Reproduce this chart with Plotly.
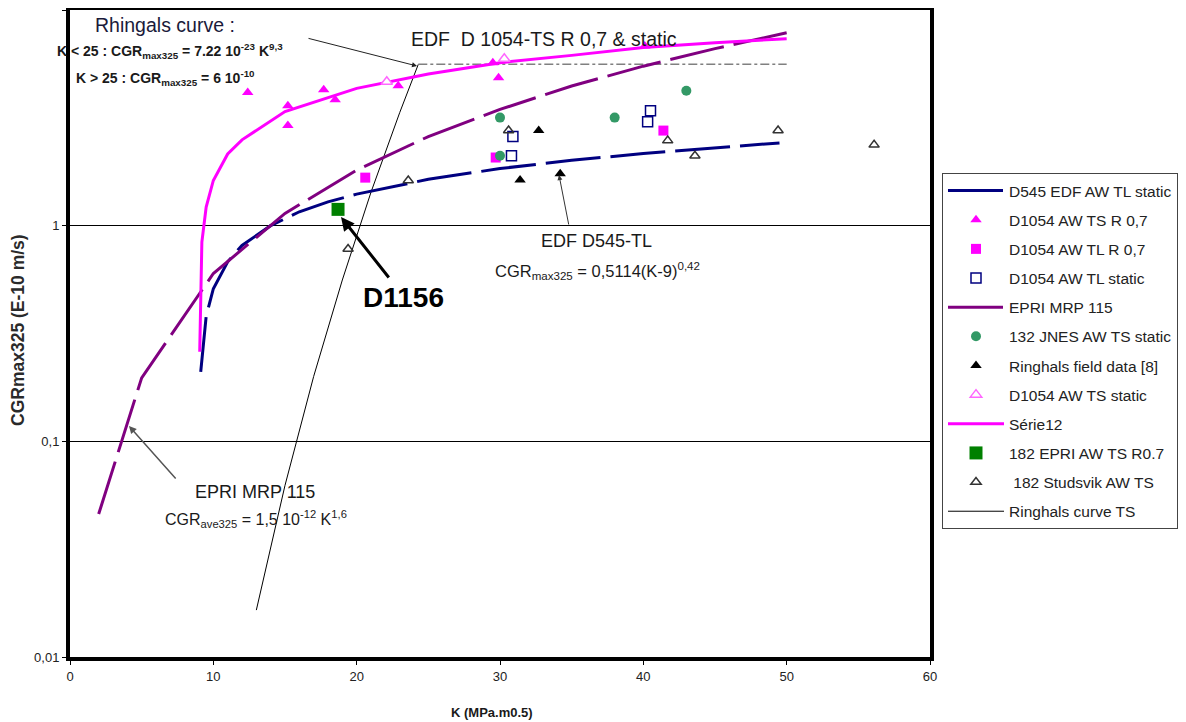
import plotly.graph_objects as go

# ---------------- data ----------------
k_d545 = [9.12, 9.5, 10, 11, 12, 14, 16, 18, 20, 25, 30, 35, 40, 45, 49.5]
cgr_d545 = [0.21, 0.38, 0.51, 0.68, 0.81, 1.0, 1.16, 1.29, 1.40, 1.64, 1.84, 2.01, 2.16, 2.30, 2.42]

k_ts_r07 = [12.4, 15.2, 15.2, 17.7, 18.5, 22.9, 29.5, 29.9, 40.1]
cgr_ts_r07 = [4.14, 3.6, 2.91, 4.27, 3.84, 4.46, 5.7, 4.85, 6.8]

k_tl_r07 = [20.6, 29.7, 41.4]
cgr_tl_r07 = [1.67, 2.07, 2.76]

k_tl_static = [30.9, 30.8, 40.5, 40.3]
cgr_tl_static = [2.59, 2.11, 3.41, 3.03]

k_epri = [2, 5, 10, 15, 20, 25, 30, 35, 40, 45, 50]
cgr_epri = [0.046, 0.197, 0.60, 1.14, 1.81, 2.59, 3.46, 4.44, 5.49, 6.62, 7.84]

k_jnes = [30.0, 30.0, 38.0, 43.0]
cgr_jnes = [3.17, 2.11, 3.17, 4.22]

k_field = [32.7, 31.4, 34.2]
cgr_field = [2.76, 1.63, 1.74]

k_ts_static = [22.1, 30.3]
cgr_ts_static = [4.65, 5.94]

k_serie12 = [9.05, 9.2, 9.5, 10, 11, 12, 15, 20, 25, 30, 35, 40, 45, 50]
cgr_serie12 = [0.26, 0.84, 1.22, 1.62, 2.15, 2.5, 3.38, 4.33, 5.05, 5.7, 6.16, 6.7, 7.05, 7.36]

k_epri182 = [18.7]
cgr_epri182 = [1.19]

k_studsvik = [19.4, 23.6, 30.6, 41.7, 43.6, 49.4, 56.1]
cgr_studsvik = [0.78, 1.62, 2.76, 2.48, 2.11, 2.76, 2.37]

k_ringhals = [13, 15, 17, 19, 21, 23, 24.3]
cgr_ringhals = [0.0165, 0.0625, 0.20, 0.56, 1.43, 3.34, 5.6]

k_ringhals_cap = [24.3, 50]
cgr_ringhals_cap = [5.6, 5.6]

y_tickvals = [0.01, 0.1, 1, 10]
y_ticktext = ["0,01", "0,1", "1", "10"]
x_tickvals = [0, 10, 20, 30, 40, 50, 60]

FONT = "Liberation Sans"

# ---------------- figure ----------------
fig = go.Figure()


def add(name, x, y, rank, **kw):
    fig.add_trace(go.Scatter(x=x, y=y, name=name, legendgroup=name,
                             legendrank=rank, **kw))


# lines first (drawn underneath)
add("Ringhals curve TS", k_ringhals, cgr_ringhals, 12, mode="lines",
    line=dict(color="black", width=1))
fig.add_trace(go.Scatter(x=k_ringhals_cap, y=cgr_ringhals_cap, mode="lines",
                         showlegend=False, hoverinfo="skip",
                         line=dict(color="#808080", width=1.5, dash="dashdot")))
add("D545 EDF AW TL static", k_d545, cgr_d545, 1, mode="lines",
    line=dict(color="#000080", width=3, dash="55px,10px"))
add("EPRI MRP 115", k_epri, cgr_epri, 5, mode="lines",
    line=dict(color="#800080", width=3, dash="55px,10px"))
add("Série12", k_serie12, cgr_serie12, 9, mode="lines",
    line=dict(color="#FF00FF", width=3))

# markers
add("D1054 AW TS R 0,7", k_ts_r07, cgr_ts_r07, 2, mode="markers",
    marker=dict(symbol="triangle-up", color="#FF00FF", size=10))
add("D1054 AW TL R 0,7", k_tl_r07, cgr_tl_r07, 3, mode="markers",
    marker=dict(symbol="square", color="#FF00FF", size=10))
add("D1054 AW TL static", k_tl_static, cgr_tl_static, 4, mode="markers",
    marker=dict(symbol="square-open", color="#000080", size=10,
                line=dict(width=1.5)))
add("132 JNES AW TS static", k_jnes, cgr_jnes, 6, mode="markers",
    marker=dict(symbol="circle", color="#339966", size=10))
add("Ringhals field data [8]", k_field, cgr_field, 7, mode="markers",
    marker=dict(symbol="triangle-up", color="black", size=10))
add("D1054 AW TS static", k_ts_static, cgr_ts_static, 8, mode="markers",
    marker=dict(symbol="triangle-up", color="white", size=10,
                line=dict(color="#FF66FF", width=1.5)))
add("182 EPRI AW TS R0.7", k_epri182, cgr_epri182, 10, mode="markers",
    marker=dict(symbol="square", color="#008000", size=13))
add(" 182 Studsvik AW TS", k_studsvik, cgr_studsvik, 11, mode="markers",
    marker=dict(symbol="triangle-up-open", color="#333333", size=9,
                line=dict(width=1.5)))

# ---------------- layout ----------------
# the page body has an 8px margin, so the figure is placed 8px in from the window corner
OFF = 8
FIG_W, FIG_H = 1186 - OFF, 722 - OFF
# plot-area edges in window pixels
SL, SR, ST, SB = 70, 930, 10, 657
W = SR - SL
H = SB - ST


def px(xp, yp):
    return (xp - SL) / W, (SB - yp) / H


annotations = []


def text(xp, yp, s, size, bold=False, anchor="center", color="#1a1a1a", angle=0):
    x, y = px(xp, yp)
    annotations.append(dict(x=x, y=y, xref="paper", yref="paper", text=s,
                            showarrow=False, xanchor=anchor, yanchor="middle",
                            textangle=angle,
                            font=dict(family=FONT, size=size, color=color,
                                      weight="bold" if bold else "normal")))


def arrow(hx, hy, tx, ty, width=1, color="black", size=1.0):
    x, y = px(hx, hy)
    annotations.append(dict(x=x, y=y, xref="paper", yref="paper", text="",
                            showarrow=True, ax=tx - hx, ay=ty - hy,
                            arrowhead=2, arrowsize=size, arrowwidth=width,
                            arrowcolor=color))


text(165, 25, "Rhingals curve :", 19.5, color="#1a1a3a")
text(55, 51, "K < 25 : CGR<sub>max325</sub> = 7.22 10<sup>-23</sup> K<sup>9,3</sup>",
     14, bold=True, anchor="left")
text(74, 78, "K > 25 : CGR<sub>max325</sub> = 6 10<sup>-10</sup>", 14, bold=True,
     anchor="left")
text(409, 39, "EDF  D 1054-TS R 0,7 &amp; static", 19.5, anchor="left")
text(596, 241, "EDF D545-TL", 18)
text(597, 271, "CGR<sub>max325</sub> = 0,5114(K-9)<sup>0,42</sup>", 16.5)
text(403, 297, "D1156", 28, bold=True, color="black")
text(255, 492, "EPRI MRP 115", 18)
text(256, 519, "CGR<sub>ave325</sub> = 1,5 10<sup>-12</sup> K<sup>1,6</sup>", 16)

# axis titles
text(18, 330, "CGRmax325 (E-10 m/s)", 17.5, bold=True, angle=-90, color="#2a2a2a")
text(492, 712, "K (MPa.m0.5)", 13, bold=True)

arrow(417, 66, 307, 38, width=1, color="#222")
arrow(559, 175, 569, 226, width=1, color="#333")
arrow(341, 217, 390, 279, width=3, color="black", size=0.9)
arrow(129, 426, 177, 480, width=1.5, color="#555")

fig.update_layout(
    width=FIG_W, height=FIG_H,
    margin=dict(l=SL - OFF, r=FIG_W - (SR - OFF), t=ST - OFF, b=FIG_H - (SB - OFF), pad=0),
    paper_bgcolor="white", plot_bgcolor="white",
    font=dict(family=FONT, size=13, color="#222"),
    showlegend=True,
    legend=dict(x=(942 - SL) / W, y=(SB - 173) / H, xanchor="left", yanchor="top",
                bordercolor="#444", borderwidth=1, bgcolor="white",
                font=dict(family=FONT, size=15.5, color="#222"),
                tracegroupgap=6, itemwidth=56, traceorder="grouped"),
    annotations=annotations,
    xaxis=dict(range=[0, 60], tickvals=x_tickvals, showgrid=False, zeroline=False,
               showline=True, mirror=True, linecolor="black", linewidth=4,
               ticks="outside", ticklen=4, tickcolor="black",
               tickfont=dict(size=13, color="#222"), automargin=False),
    yaxis=dict(type="log", range=[-2, 1], tickvals=y_tickvals, ticktext=y_ticktext,
               showgrid=True, gridcolor="black", gridwidth=1, zeroline=False,
               showline=True, mirror=True, linecolor="black", linewidth=4,
               ticks="outside", ticklen=4, tickcolor="black",
               tickfont=dict(size=13, color="#222"), automargin=False),
)

fig.write_html("out.html")
